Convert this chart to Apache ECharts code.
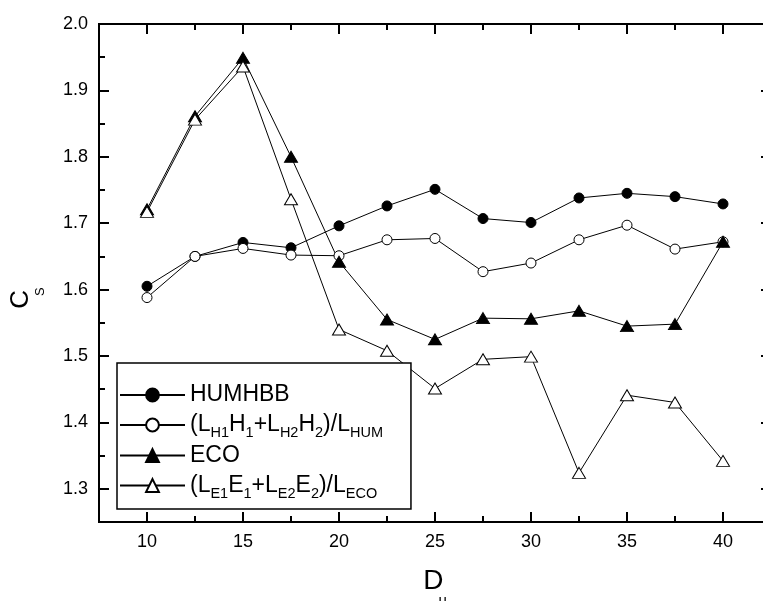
<!DOCTYPE html>
<html>
<head>
<meta charset="utf-8">
<script src="https://cdn.jsdelivr.net/npm/echarts@6/dist/echarts.min.js"></script>
<style>
  html, body { margin: 0; background: #fff; }
  #chart { width: 763px; height: 601px; }
</style>
</head>
<body>
<div id="chart"></div>
<script>
// data
const du = [10, 12.5, 15, 17.5, 20, 22.5, 25, 27.5, 30, 32.5, 35, 37.5, 40]
const humhbb = [1.605, 1.650, 1.671, 1.663, 1.696, 1.726, 1.751, 1.707, 1.701, 1.738, 1.745, 1.740, 1.729]
const humMix = [1.588, 1.650, 1.662, 1.652, 1.651, 1.675, 1.677, 1.627, 1.640, 1.675, 1.697, 1.661, 1.672]
const eco = [1.721, 1.861, 1.949, 1.800, 1.642, 1.555, 1.525, 1.557, 1.556, 1.568, 1.545, 1.548, 1.672]
const ecoMix = [1.717, 1.856, 1.936, 1.736, 1.540, 1.508, 1.451, 1.495, 1.499, 1.324, 1.441, 1.430, 1.342]

const xMajor = [10, 15, 20, 25, 30, 35, 40]
const xMinor = [12.5, 17.5, 22.5, 27.5, 32.5, 37.5]
const yMajor = [1.3, 1.4, 1.5, 1.6, 1.7, 1.8, 1.9, 2.0]
const yMinor = [1.35, 1.45, 1.55, 1.65, 1.75, 1.85, 1.95]

const names = ['HUMHBB', '(LH1H1+LH2H2)/LHUM', 'ECO', '(LE1E1+LE2E2)/LECO']
const legendText = {
  'HUMHBB': 'HUMHBB',
  '(LH1H1+LH2H2)/LHUM': '(L{s|H1}H{s|1}+L{s|H2}H{s|2})/L{s|HUM}',
  'ECO': 'ECO',
  '(LE1E1+LE2E2)/LECO': '(L{s|E1}E{s|1}+L{s|E2}E{s|2})/L{s|ECO}'
}

const font = 'Liberation Sans'
const black = '#000'
const xMin = 7.5, xMax = 42.5
const yMin = 1.25, yMax = 2.0

const xAxisBase = (ticks, len, showLine) => ({
  type: 'value', min: xMin, max: xMax, position: 'bottom',
  axisLine: { show: showLine, onZero: false, lineStyle: { color: black, width: 2 } },
  axisTick: { show: true, inside: true, length: len, customValues: ticks, lineStyle: { color: black, width: 2 } },
  axisLabel: { show: false },
  splitLine: { show: false }
})
const yAxisBase = (position, ticks, len, showLine) => ({
  type: 'value', min: yMin, max: yMax, position,
  axisLine: { show: showLine, onZero: false, lineStyle: { color: black, width: 2 } },
  axisTick: { show: true, inside: true, length: len, customValues: ticks, lineStyle: { color: black, width: 2 } },
  axisLabel: { show: false },
  splitLine: { show: false }
})

const xBottom = xAxisBase(xMajor, 10, true)
xBottom.axisLabel = { show: true, customValues: xMajor, margin: 11, fontSize: 18, fontFamily: font, color: black }
xBottom.name = 'D{s|u}'
xBottom.nameLocation = 'middle'
xBottom.nameGap = 33
xBottom.nameTextStyle = {
  fontSize: 28, fontFamily: font, color: black,
  rich: { s: { fontSize: 15, fontFamily: font, color: black, padding: [38, 0, 0, -5] } }
}

const yLeft = yAxisBase('left', yMajor, 10, true)
yLeft.axisLabel = { show: true, customValues: yMajor, margin: 11, fontSize: 18, fontFamily: font, color: black,
  formatter: v => v.toFixed(1) }
yLeft.name = 'C{s|S}{g| }'
yLeft.nameLocation = 'middle'
yLeft.nameRotate = 90
yLeft.nameGap = 52
yLeft.nameTextStyle = {
  fontSize: 26, fontFamily: font, color: black,
  rich: {
    s: { fontSize: 13, fontFamily: font, color: black, padding: [39, 0, 0, -6] },
    g: { width: 50, fontSize: 13 }
  }
}

const mkSeries = (name, values, symbol, size, filled) => ({
  name, type: 'line',
  data: du.map((x, i) => [x, values[i]]),
  symbol, symbolSize: size, showAllSymbol: true,
  lineStyle: { color: black, width: 1 },
  itemStyle: { color: filled ? black : '#fff', borderColor: black, borderWidth: 1 },
  emphasis: { disabled: true },
  z: 3
})

// top edge of the frame, drawn along the axis limits
const topFrame = {
  name: 'frame', type: 'line', clip: false, silent: true, symbol: 'none', z: 20,
  data: [[xMin, yMax], [xMax, yMax]],
  lineStyle: { color: black, width: 2 },
  emphasis: { disabled: true }
}

const chart = echarts.init(document.getElementById('chart'))
chart.setOption({
  animation: false,
  backgroundColor: '#fff',
  grid: {
    left: 99, top: 24, right: -8, bottom: 79, containLabel: false, outerBoundsMode: 'none',
    show: true, borderColor: black, borderWidth: 2, backgroundColor: 'transparent'
  },
  xAxis: [
    xBottom,
    xAxisBase(xMinor, 6, false)
  ],
  yAxis: [
    yLeft,
    yAxisBase('left', yMinor, 6, false),
    yAxisBase('right', yMajor, 10, true),
    yAxisBase('right', yMinor, 6, false)
  ],
  legend: {
    data: names,
    orient: 'vertical',
    left: 117, top: 363,
    padding: [17, 28, 8, 2],
    itemGap: 0,
    itemWidth: 65, itemHeight: 16,
    selectedMode: false,
    backgroundColor: '#fff',
    borderColor: black, borderWidth: 1.5, borderRadius: 0,
    formatter: n => legendText[n],
    textStyle: {
      fontSize: 23, fontFamily: font, color: black, lineHeight: 30,
      rich: { s: { fontSize: 14.5, fontFamily: font, color: black, padding: [16, 0, 0, 0] } }
    },
    z: 10
  },
  series: [
    mkSeries(names[0], humhbb, 'circle', 10, true),
    mkSeries(names[1], humMix, 'circle', 10, false),
    mkSeries(names[2], eco, 'triangle', [13, 11], true),
    mkSeries(names[3], ecoMix, 'triangle', [13, 11], false),
    topFrame
  ]
})

// inward ticks on the top frame, placed through the grid's own scales
const toPx = (x, y) => chart.convertToPixel({ gridIndex: 0 }, [x, y])
const topY = toPx(xMin, yMax)[1]
const topTick = (v, len) => {
  const px = toPx(v, yMax)[0]
  return {
    type: 'line', silent: true, z: 50,
    shape: { x1: px, y1: topY, x2: px, y2: topY + len },
    style: { stroke: black, lineWidth: 2 }
  }
}
chart.setOption({
  graphic: xMajor.map(v => topTick(v, 10)).concat(xMinor.map(v => topTick(v, 6)))
})
window.addEventListener('resize', () => { chart.resize() })
</script>
</body>
</html>
